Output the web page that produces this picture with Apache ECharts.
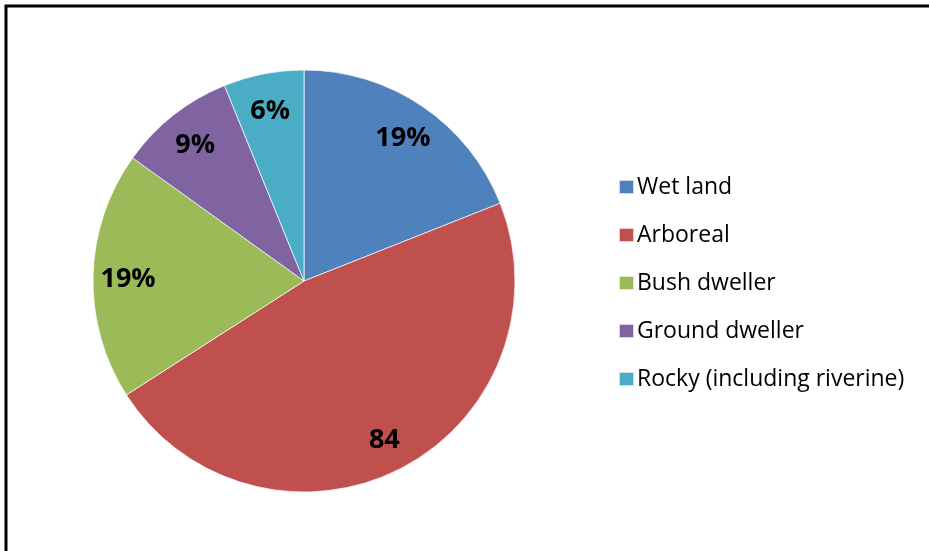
<!DOCTYPE html>
<html>
<head>
<meta charset="utf-8">
<script src="https://cdn.jsdelivr.net/npm/echarts@6/dist/echarts.min.js"></script>
<style>
  html, body { margin: 0; padding: 0; background: #fff; }
  #chart { width: 929px; height: 551px; }
</style>
</head>
<body>
<div id="chart"></div>
<script>
// Habitat groups and their counts
const categories = ['Wet land', 'Arboreal', 'Bush dweller', 'Ground dweller', 'Rocky (including riverine)'];
const counts = [34, 84, 34, 16, 11];
const colors = ['#4F81BD', '#C0504D', '#9BBB59', '#8064A2', '#4BACC6'];
// Which slices show the raw count instead of a percentage
const showCount = [false, true, false, false, false];

const pieData = categories.map((name, i) => ({ name: name, value: counts[i] }));

const chart = echarts.init(document.getElementById('chart'), null, { renderer: 'canvas' });

const center = [304, 281];
const R = 211;

chart.setOption({
  animation: false,
  backgroundColor: '#ffffff',
  color: colors,
  graphic: [{
    type: 'rect',
    shape: { x: 6, y: 6, width: 1000, height: 1000 },
    style: { fill: 'none', stroke: '#000', lineWidth: 3 },
    silent: true
  }],
  legend: {
    orient: 'vertical',
    left: 613,
    top: 170,
    itemWidth: 15,
    itemHeight: 14,
    itemGap: 24,
    icon: 'rect',
    data: categories,
    textStyle: {
      fontFamily: 'Open Sans',
      fontSize: 23,
      lineHeight: 24,
      color: '#000',
      padding: [0, 0, 0, -2]
    }
  },
  series: [
    {
      type: 'pie',
      center: center,
      radius: R,
      startAngle: 90,
      clockwise: true,
      silent: true,
      label: { show: false },
      labelLine: { show: false },
      itemStyle: { borderColor: 'rgba(255,255,255,0.7)', borderWidth: 1 },
      data: pieData
    },
    {
      // transparent ring that carries the slice labels
      type: 'pie',
      center: center,
      radius: [135, R],
      startAngle: 90,
      clockwise: true,
      silent: true,
      itemStyle: { color: 'rgba(0,0,0,0)' },
      labelLine: { show: false },
      label: {
        show: true,
        position: 'inside',
        offset: [0, 3],
        fontFamily: 'Open Sans',
        fontWeight: 'bold',
        fontSize: 27,
        color: '#000',
        formatter: p => showCount[p.dataIndex] ? String(p.value) : Math.round(p.percent) + '%'
      },
      data: pieData
    }
  ]
});
</script>
</body>
</html>
